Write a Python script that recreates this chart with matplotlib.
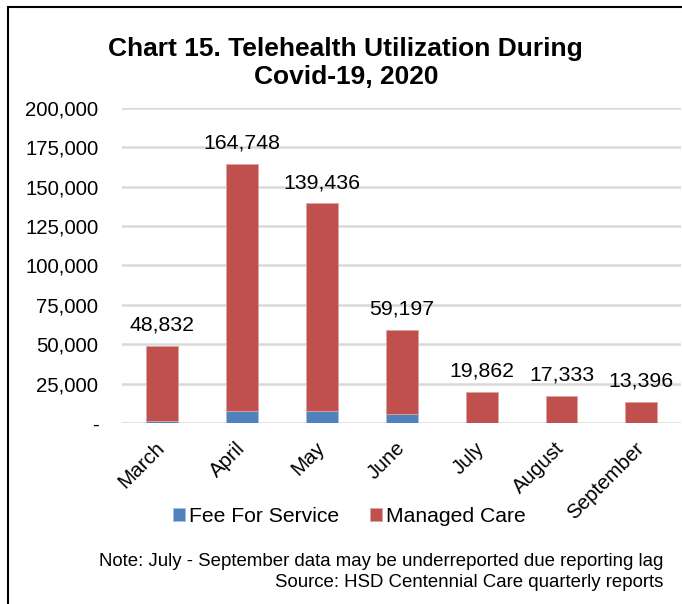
import matplotlib
matplotlib.use("Agg")
import matplotlib.pyplot as plt
from matplotlib.patches import Rectangle
import numpy as np

months = ["March", "April", "May", "June", "July", "August", "September"]
totals = [48832, 164748, 139436, 59197, 19862, 17333, 13396]
fee_for_service = [1300, 7600, 7700, 5500, 300, 250, 200]
managed_care = [t - f for t, f in zip(totals, fee_for_service)]
yticks = [0, 25000, 50000, 75000, 100000, 125000, 150000, 175000, 200000]

plt.rcParams['font.family'] = ['Liberation Sans', 'DejaVu Sans']

fig = plt.figure(figsize=(6.82, 6.04), dpi=100)
ax = fig.add_axes([0.179, 0.2997, 0.82, 0.5215])

x = np.arange(len(months))
w = 0.40
blue = "#4F81BD"
red = "#C0504D"
ax.bar(x, fee_for_service, w, color=blue, label="Fee For Service", zorder=3,
       edgecolor="#A9C0DF", linewidth=0.6)
ax.bar(x, managed_care, w, bottom=fee_for_service, color=red, label="Managed Care",
       zorder=3, edgecolor="#E0A3A1", linewidth=0.6)

for xi, t in zip(x, totals):
    ax.annotate(f"{t:,}", (xi, t), xytext=(0, 8), textcoords="offset points",
                ha="center", va="bottom", fontsize=15.3)

ax.set_xlim(-0.5, len(months) - 0.5)
ax.set_ylim(0, 200000)
ax.set_yticks(yticks)
ax.set_yticklabels(["-" if v == 0 else f"{v:,}" for v in yticks], fontsize=14.7)
ax.set_xticks(x)
ax.set_xticklabels(months, rotation=45, ha="right", va="center",
                   rotation_mode="anchor", fontsize=14.8)
ax.tick_params(axis="x", length=0, pad=16)
ax.tick_params(axis="y", length=0, pad=17)
ax.grid(axis="y", color="#D9D9D9", linewidth=1.8, zorder=0)
for s in ax.spines.values():
    s.set_visible(False)

fig.text(0.507, 0.896, "Chart 15. Telehealth Utilization During\nCovid-19, 2020",
         ha="center", va="center", fontsize=19, fontweight="bold", linespacing=1.2)

handles, labels = ax.get_legend_handles_labels()
fig.legend(handles, labels, loc="center", bbox_to_anchor=(0.5125, 0.145), ncol=2,
           frameon=False, fontsize=15.2, handlelength=0.55, handleheight=0.55,
           handletextpad=0.2, columnspacing=1.45)

fig.text(0.972, 0.071, "Note: July - September data may be underreported due reporting lag",
         ha="right", va="center", fontsize=13.45)
fig.text(0.972, 0.036, "Source: HSD Centennial Care quarterly reports",
         ha="right", va="center", fontsize=13.45)

fig.add_artist(Rectangle((8 / 682, -0.1), 1.2, 1.1 - 7 / 604, transform=fig.transFigure,
                         fill=False, edgecolor="black", linewidth=1.5))

fig.savefig("out.png", dpi=100)
